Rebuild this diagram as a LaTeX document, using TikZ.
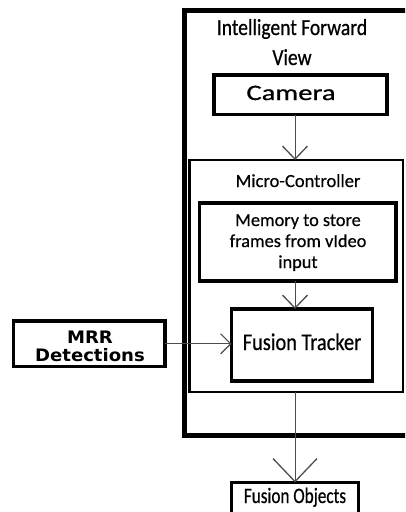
\documentclass[tikz,border=0pt]{standalone}
\usepackage{fontspec}
\setmainfont[FakeBold=0.5]{Carlito}
\newfontfamily\titlefont[FakeStretch=0.85,FakeBold=0.6]{Carlito}
\newfontfamily\camfont[FakeStretch=1.3,FakeBold=0.9]{Carlito}
\newfontfamily\ftfont[FakeStretch=0.85,FakeBold=0.6]{Carlito}
\newfontfamily\fofont[FakeStretch=0.78,FakeBold=0.6]{Carlito}
\newfontfamily\mrrfont[FakeStretch=1.05]{DejaVu Sans}
\usetikzlibrary{arrows.meta}
\begin{document}
\begin{tikzpicture}[x=1pt,y=-1pt,
  box/.style={draw=black, rectangle, inner sep=0pt, outer sep=0pt},
  lbl/.style={anchor=base, inner sep=0pt, text=black},
  conn/.style={draw=black!70, line width=0.9pt},
  tipA/.style={-{Straight Barb[length=13pt,width=25pt,line width=1.3pt]}},
  tipS/.style={-{Straight Barb[length=10pt,width=20pt,line width=1.2pt]}},
  tipB/.style={-{Straight Barb[length=23pt,width=44pt,line width=1.3pt]}}]
\useasboundingbox (0,0) rectangle (405,512);
\clip (0,0) rectangle (405,512);
% boxes
\node[box, line width=5pt, minimum width=246pt, minimum height=425pt] (ifv) at (307,223) {};
\node[box, line width=3.5pt, minimum width=173pt, minimum height=39.5pt] (cam) at (300.5,94.75) {};
\node[box, line width=2.5pt, minimum width=213.5pt, minimum height=232pt] (mc) at (296.25,276) {};
\node[box, line width=3.5pt, minimum width=196.5pt, minimum height=78pt] (mem) at (297.75,242) {};
\node[box, line width=3.5pt, minimum width=141pt, minimum height=72pt] (ft) at (302,345) {};
\node[box, line width=3.5pt, minimum width=151.5pt, minimum height=45.5pt] (mrr) at (89.25,343.75) {};
\node[box, line width=3.5pt, minimum width=127pt, minimum height=40pt] (fo) at (295,502.5) {};
% labels
\node[lbl] (t1) at (292,35) {\titlefont\fontsize{23}{28}\selectfont Intelligent Forward};
\node[lbl] (t2) at (292,65) {\titlefont\fontsize{23}{28}\selectfont View};
\node[lbl] (tcam) at (291,100) {\camfont\fontsize{22}{26}\selectfont Camera};
\node[lbl] (tmc) at (298,187) {\fontsize{18.5}{22}\selectfont Micro-Controller};
\node[lbl] (tm1) at (298,226) {\fontsize{18.3}{21}\selectfont Memory to store};
\node[lbl] (tm2) at (298,247) {\fontsize{18.3}{21}\selectfont frames from vIdeo};
\node[lbl] (tm3) at (298,268) {\fontsize{18.3}{21}\selectfont input};
\node[lbl] (tft) at (302,350) {\ftfont\fontsize{24}{28}\selectfont Fusion Tracker};
\node[lbl] (tmrr1) at (90,343) {\mrrfont\bfseries\fontsize{17.2}{20}\selectfont MRR};
\node[lbl] (tmrr2) at (90,361) {\mrrfont\bfseries\fontsize{17.2}{20}\selectfont Detections};
\node[lbl] (tfo) at (295,503) {\fofont\fontsize{22}{26}\selectfont Fusion Objects};
% connectors
\coordinate (ax) at (295,0);
\draw[conn, tipA] (ax |- cam.south) -- (ax |- mc.north);
\draw[conn, tipA] (ax |- mem.south) -- (ax |- ft.north);
\draw[conn, tipS] (mrr.east) -- (mrr.east -| ft.west);
\draw[conn, tipB] (ax |- mc.south) -- (ax |- fo.north);
\end{tikzpicture}
\end{document}
